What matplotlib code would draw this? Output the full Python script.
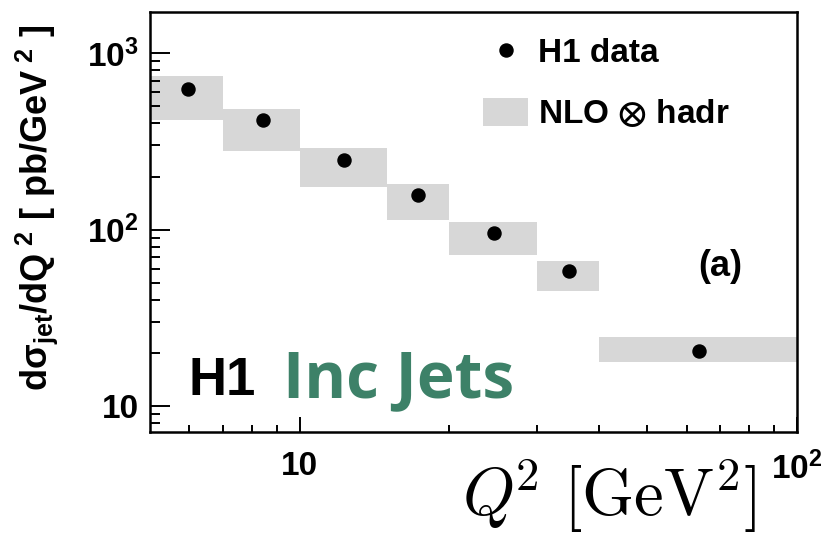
import matplotlib
matplotlib.use('Agg')
import matplotlib.pyplot as plt
from matplotlib.lines import Line2D
from matplotlib.patches import Patch
from matplotlib.font_manager import FontProperties
from matplotlib.ticker import FixedLocator, NullFormatter

plt.rcParams['font.family'] = ['Liberation Sans', 'DejaVu Sans']
plt.rcParams['font.weight'] = 'bold'
plt.rcParams['mathtext.fontset'] = 'custom'
plt.rcParams['mathtext.rm'] = 'Liberation Sans:bold'
plt.rcParams['mathtext.bf'] = 'Liberation Sans:bold'
plt.rcParams['mathtext.it'] = 'Liberation Sans:bold'
plt.rcParams['mathtext.sf'] = 'Liberation Sans:bold'

# Q2 bins and cross sections
q2_lo = [5, 7, 10, 15, 20, 30, 40]
q2_hi = [7, 10, 15, 20, 30, 40, 100]
q2_pt = [5.97, 8.43, 12.3, 17.3, 24.6, 34.8, 63.4]
h1_data = [625, 417, 248, 157, 95, 58.4, 20.5]
nlo_lo = [418, 280, 175, 113, 71.9, 44.9, 17.8]
nlo_hi = [743, 483, 290, 181, 110, 66.3, 24.5]

band_col = '#d7d7d7'
green = '#3d8168'

fig = plt.figure(figsize=(8.22, 5.35), dpi=100)
ax = fig.add_axes([150/822, 1-432/535, 647/822, 420.5/535])
ax.set_xscale('log')
ax.set_yscale('log')

widths = [h - l for l, h in zip(q2_lo, q2_hi)]
heights = [h - l for l, h in zip(nlo_lo, nlo_hi)]
ax.bar(q2_lo, heights, width=widths, bottom=nlo_lo, align='edge',
       color=band_col, linewidth=0, zorder=1)
ax.plot(q2_pt, h1_data, 'o', color='black', markersize=9.4, zorder=3)

ax.set_xlim(5, 100)
ax.set_ylim(7.1, 1727)

for s in ax.spines.values():
    s.set_linewidth(1.8)

ax.xaxis.set_major_locator(FixedLocator([10, 100]))
ax.set_xticklabels(['10', r'$\mathbf{10^{2}}$'])
ax.xaxis.set_minor_locator(FixedLocator([6, 7, 8, 9, 20, 30, 40, 50, 60, 70, 80, 90]))
ax.xaxis.set_minor_formatter(NullFormatter())
ax.yaxis.set_major_locator(FixedLocator([10, 100, 1000]))
ax.set_yticklabels(['10', r'$\mathbf{10^{2}}$', r'$\mathbf{10^{3}}$'])
ax.yaxis.set_minor_locator(FixedLocator([8, 9] + [k*10 for k in range(2, 10)] + [k*100 for k in range(2, 10)]))
ax.yaxis.set_minor_formatter(NullFormatter())

ax.tick_params(axis='x', which='major', direction='in', length=10.8, width=1.4,
               pad=14, labelsize=24)
ax.tick_params(axis='x', which='minor', direction='in', length=5.4, width=1.4)
ax.tick_params(axis='y', which='major', direction='in', length=14.4, width=1.4,
               pad=8, labelsize=24)
ax.tick_params(axis='y', which='minor', direction='in', length=7.2, width=1.4)

handles = [Line2D([], [], marker='o', color='black', linestyle='none', markersize=9.4),
           Patch(facecolor=band_col, edgecolor='none')]
leg_font = FontProperties(family=['Liberation Sans', 'DejaVu Sans'], size=24,
                          weight='bold', math_fontfamily='stix')
ax.legend(handles, ['H1 data', r'NLO $\otimes$ hadr'], loc='upper left',
          bbox_to_anchor=(0.5147, 0.94), frameon=False, borderpad=0,
          borderaxespad=0, handlelength=1.35, handleheight=0.93,
          handletextpad=0.3, labelspacing=0.85, prop=leg_font)

ax.text(720, 268, '(a)', transform=None, fontsize=26, fontweight='bold',
        ha='center', va='center')
fig.text(188/822, 1-395/535, 'H1', fontsize=38, fontweight='bold', color='black',
         ha='left', va='baseline')
fig.text(283/822, 1-397/535, 'Inc Jets', fontsize=46, fontweight='bold', color=green,
         family='Open Sans', ha='left', va='baseline')

fig.text(37/822, 1-208/535, r'$\mathbf{d\sigma_{jet}/dQ^{\ 2}\ [\ pb/GeV^{\ 2}\ ]}$',
         rotation=90, fontsize=26, ha='center', va='center')
fig.text(757/822, 1-516/535, r'$Q^{\!2}\ [\mathrm{GeV}^{2}]$',
         fontsize=48, math_fontfamily='cm', ha='right', va='baseline')

fig.savefig('out.png', dpi=100)
